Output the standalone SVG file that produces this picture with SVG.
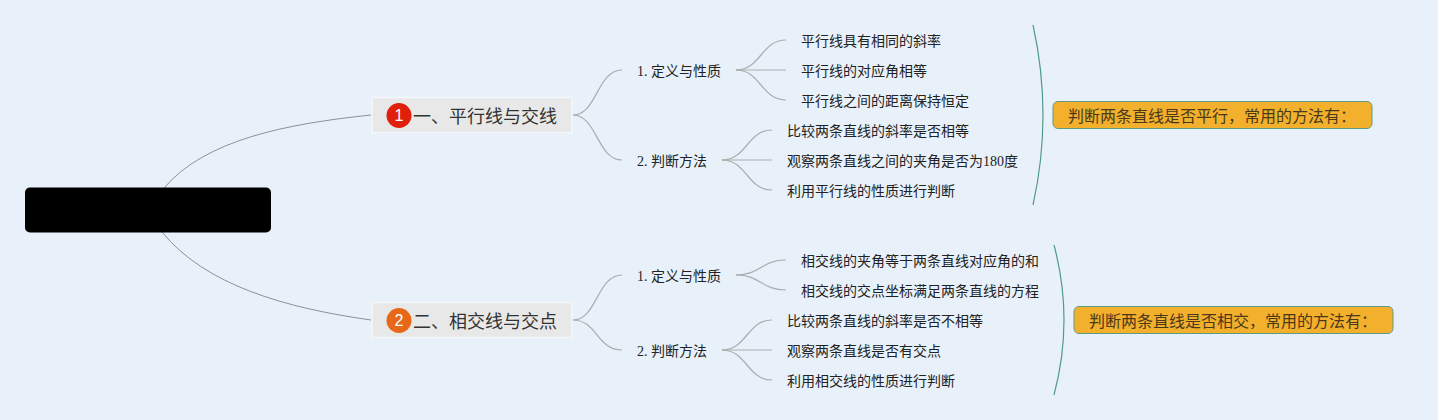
<svg xmlns="http://www.w3.org/2000/svg" width="1438" height="420" viewBox="0 0 1438 420">
<style>
text{font-family:"Liberation Serif","Noto Sans CJK SC",serif;fill:#222;dominant-baseline:central}
.leaf{font-size:14px}
.sub{font-size:14px}
.topic{font-size:18px;font-family:"Noto Sans CJK SC",sans-serif;fill:#333}
.num{font-size:16px;font-family:"Liberation Sans",sans-serif;fill:#fff;text-anchor:middle}
.note{font-size:16px;font-family:"Noto Sans CJK SC",sans-serif;fill:#4a3a1a}
.tb{fill:#e8e8e8;stroke:#f4f7fa;stroke-width:1.500}
.nb{fill:#f3b02c;stroke:#5d9c84;stroke-width:1}
.c{fill:none;stroke:#a9adad;stroke-width:1.200}
.m{fill:none;stroke:#8b9196;stroke-width:1}
.b{fill:none;stroke:#4f9a8c;stroke-width:1.200}
</style>
<rect width="1438" height="420" fill="#e8f1f9"/>
<g id="connectors">
<path class="m" d="M164 188C205 140 285 124 371 115"/>
<path class="m" d="M162 232C205 285 285 308 371 320"/>
<path class="c" d="M573 115C597 115 597 70 622 70"/>
<path class="c" d="M573 115C597 115 597 160 622 160"/>
<path class="c" d="M736 70C761 70 761 40 786 40"/>
<path class="c" d="M736 70H786"/>
<path class="c" d="M736 70C761 70 761 100 786 100"/>
<path class="c" d="M722 160C747 160 747 130 772 130"/>
<path class="c" d="M722 160H772"/>
<path class="c" d="M722 160C747 160 747 190 772 190"/>
<path class="c" d="M573 320C597 320 597 275 622 275"/>
<path class="c" d="M573 320C597 320 597 350 622 350"/>
<path class="c" d="M736 275C761 275 761 260 786 260"/>
<path class="c" d="M736 275C761 275 761 290 786 290"/>
<path class="c" d="M722 350C747 350 747 320 772 320"/>
<path class="c" d="M722 350H772"/>
<path class="c" d="M722 350C747 350 747 380 772 380"/>
<path class="b" d="M1033 25Q1053 115 1033 205"/>
<path class="b" d="M1054 245Q1074 320 1054 395"/>
</g>
<g id="root"><rect x="25" y="187.500" width="246" height="45" rx="5" fill="#000"/></g>
<g id="topic1"><rect class="tb" x="372" y="97.500" width="200" height="35"/><circle cx="399" cy="115.500" r="12.500" fill="#e0200c"/><text class="num" x="399" y="115.500">1</text><text class="topic" x="413" y="115">一、平行线与交线</text></g>
<g id="topic2"><rect class="tb" x="372" y="302.500" width="200" height="35"/><circle cx="399" cy="320.500" r="12.500" fill="#e8681a"/><text class="num" x="399" y="320.500">2</text><text class="topic" x="413" y="320">二、相交线与交点</text></g>
<g id="n1-1"><text class="sub" x="637" y="71">1. 定义与性质</text></g>
<g id="n1-2"><text class="sub" x="637" y="161">2. 判断方法</text></g>
<g id="n2-1"><text class="sub" x="637" y="276">1. 定义与性质</text></g>
<g id="n2-2"><text class="sub" x="637" y="351">2. 判断方法</text></g>
<g id="l1"><text class="leaf" x="801" y="41">平行线具有相同的斜率</text></g>
<g id="l2"><text class="leaf" x="801" y="71">平行线的对应角相等</text></g>
<g id="l3"><text class="leaf" x="801" y="101">平行线之间的距离保持恒定</text></g>
<g id="l4"><text class="leaf" x="787" y="131">比较两条直线的斜率是否相等</text></g>
<g id="l5"><text class="leaf" x="787" y="161">观察两条直线之间的夹角是否为180度</text></g>
<g id="l6"><text class="leaf" x="787" y="191">利用平行线的性质进行判断</text></g>
<g id="l7"><text class="leaf" x="801" y="261">相交线的夹角等于两条直线对应角的和</text></g>
<g id="l8"><text class="leaf" x="801" y="291">相交线的交点坐标满足两条直线的方程</text></g>
<g id="l9"><text class="leaf" x="787" y="321">比较两条直线的斜率是否不相等</text></g>
<g id="l10"><text class="leaf" x="787" y="351">观察两条直线是否有交点</text></g>
<g id="l11"><text class="leaf" x="787" y="381">利用相交线的性质进行判断</text></g>
<g id="note1"><rect class="nb" x="1053" y="101.500" width="319" height="27" rx="5"/><text class="note" x="1068" y="115">判断两条直线是否平行&#xFF0C;常用的方法有&#xFF1A;</text></g>
<g id="note2"><rect class="nb" x="1074" y="306.500" width="319" height="27" rx="5"/><text class="note" x="1089" y="320">判断两条直线是否相交&#xFF0C;常用的方法有&#xFF1A;</text></g>
</svg>
